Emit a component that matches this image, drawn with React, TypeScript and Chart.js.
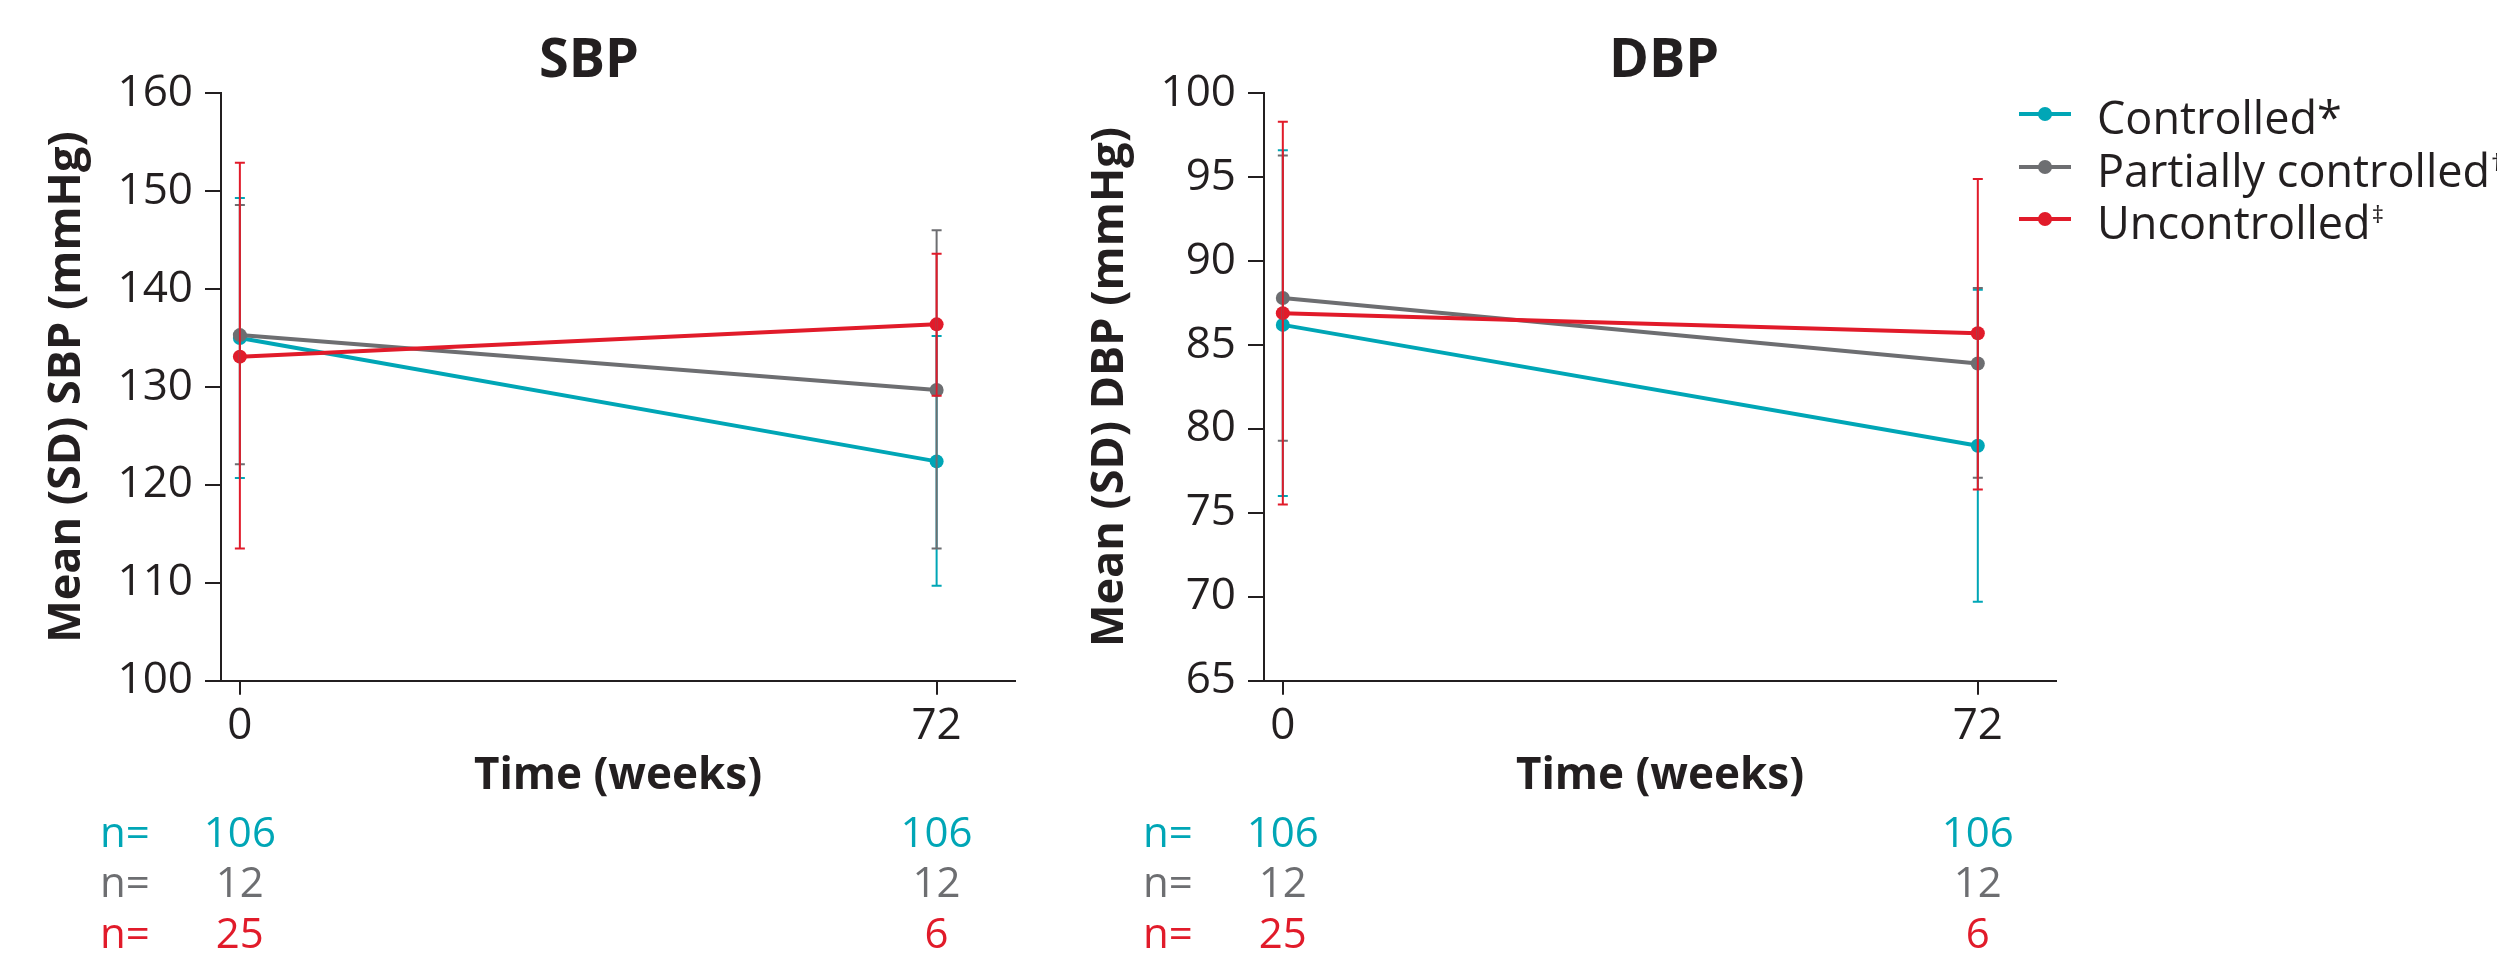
import React, { useEffect, useRef } from 'react';
import { Chart, registerables } from 'chart.js';

Chart.register(...registerables);

// ---------- data ----------
const weeks = [0, 72];
const seriesNames = ['Controlled', 'Partially controlled', 'Uncontrolled'];
const seriesMarks = ['*', '\u2020', '\u2021'];
const seriesColors = ['#00a6b6', '#6d6e71', '#e11b2a'];

// SBP (mmHg)
const sbpControlled = [135.0, 122.4];
const sbpControlledLow = [120.7, 109.7];
const sbpControlledHigh = [149.3, 135.2];
const sbpPartial = [135.3, 129.7];
const sbpPartialLow = [122.1, 113.5];
const sbpPartialHigh = [148.6, 146.0];
const sbpUncontrolled = [133.1, 136.4];
const sbpUncontrolledLow = [113.5, 129.1];
const sbpUncontrolledHigh = [152.9, 143.6];

// DBP (mmHg)
const dbpControlled = [86.2, 79.0];
const dbpControlledLow = [76.0, 69.7];
const dbpControlledHigh = [96.6, 88.3];
const dbpPartial = [87.8, 83.9];
const dbpPartialLow = [79.3, 77.1];
const dbpPartialHigh = [96.3, 88.4];
const dbpUncontrolled = [86.9, 85.7];
const dbpUncontrolledLow = [75.5, 76.4];
const dbpUncontrolledHigh = [98.3, 94.9];

// patients per group at each time point
const nControlled = [106, 106];
const nPartial = [12, 12];
const nUncontrolled = [25, 6];

const sbpTicks = [100, 110, 120, 130, 140, 150, 160];
const dbpTicks = [65, 70, 75, 80, 85, 90, 95, 100];

// ---------- styling ----------
const FONT = "'Open Sans', 'Noto Sans', sans-serif";
const INK = '#231f20';

type Panel = {
  title: string;
  titleX: number;
  yTitle: string;
  yTicks: number[];
  means: number[][];
  lows: number[][];
  highs: number[][];
  legend: boolean;
  padRight: number;
};

const panels: Panel[] = [
  {
    title: 'SBP',
    titleX: 589,
    yTitle: 'Mean (SD) SBP (mmHg)',
    yTicks: sbpTicks,
    means: [sbpControlled, sbpPartial, sbpUncontrolled],
    lows: [sbpControlledLow, sbpPartialLow, sbpUncontrolledLow],
    highs: [sbpControlledHigh, sbpPartialHigh, sbpUncontrolledHigh],
    legend: false,
    padRight: 28,
  },
  {
    title: 'DBP',
    titleX: 621,
    yTitle: 'Mean (SD) DBP (mmHg)',
    yTicks: dbpTicks,
    means: [dbpControlled, dbpPartial, dbpUncontrolled],
    lows: [dbpControlledLow, dbpPartialLow, dbpUncontrolledLow],
    highs: [dbpControlledHigh, dbpPartialHigh, dbpUncontrolledHigh],
    legend: true,
    padRight: 441,
  },
];

const nRows = [nControlled, nPartial, nUncontrolled];

function makePlugin(p: Panel) {
  return {
    id: 'extras_' + p.title,
    afterDatasetsDraw(chart: any) {
      const ctx = chart.ctx;
      const xs = chart.scales.x;
      const ys = chart.scales.y;
      ctx.save();
      // error bars: controlled, partially, uncontrolled (red on top)
      for (let s = 0; s < 3; s++) {
        ctx.strokeStyle = seriesColors[s];
        ctx.lineWidth = 2;
        for (let i = 0; i < weeks.length; i++) {
          const x = xs.getPixelForValue(weeks[i]);
          const yl = ys.getPixelForValue(p.lows[s][i]);
          const yh = ys.getPixelForValue(p.highs[s][i]);
          ctx.beginPath();
          ctx.moveTo(x, yl);
          ctx.lineTo(x, yh);
          ctx.moveTo(x - 5, yl);
          ctx.lineTo(x + 5, yl);
          ctx.moveTo(x - 5, yh);
          ctx.lineTo(x + 5, yh);
          ctx.stroke();
        }
      }
      ctx.restore();
    },
    afterDraw(chart: any) {
      const ctx = chart.ctx;
      const xs = chart.scales.x;
      ctx.save();
      // panel title
      ctx.fillStyle = INK;
      ctx.font = `bold 54px ${FONT}`;
      ctx.textAlign = 'center';
      ctx.textBaseline = 'alphabetic';
      ctx.fillText(p.title, p.titleX, 77);

      // n rows
      const baselines = [847, 897, 948];
      ctx.font = `42px ${FONT}`;
      for (let s = 0; s < 3; s++) {
        ctx.fillStyle = seriesColors[s];
        ctx.textAlign = 'left';
        ctx.fillText('n=', 100, baselines[s]);
        ctx.textAlign = 'center';
        for (let i = 0; i < weeks.length; i++) {
          ctx.fillText(String(nRows[s][i]), xs.getPixelForValue(weeks[i]), baselines[s]);
        }
      }

      // legend
      if (p.legend) {
        const rowY = [114, 167, 219];
        for (let s = 0; s < 3; s++) {
          const y = rowY[s];
          ctx.strokeStyle = seriesColors[s];
          ctx.lineWidth = 4;
          ctx.beginPath();
          ctx.moveTo(976, y);
          ctx.lineTo(1028, y);
          ctx.stroke();
          ctx.fillStyle = seriesColors[s];
          ctx.beginPath();
          ctx.arc(1002, y, 7, 0, Math.PI * 2);
          ctx.fill();
          ctx.fillStyle = INK;
          ctx.textAlign = 'left';
          ctx.font = `45px ${FONT}`;
          const tx = 1054;
          const by = y + 19.5;
          ctx.fillText(seriesNames[s], tx, by);
          const w = ctx.measureText(seriesNames[s]).width;
          if (s === 0) {
            ctx.fillText(seriesMarks[s], tx + w, by);
          } else {
            ctx.font = `24px ${FONT}`;
            ctx.fillText(seriesMarks[s], tx + w + 1, by - 16);
          }
        }
      }
      ctx.restore();
    },
  };
}

function makeConfig(p: Panel): any {
  const order = [2, 1, 0];
  return {
    type: 'line',
    data: {
      datasets: [0, 1, 2].map((s) => ({
        label: seriesNames[s] + seriesMarks[s],
        data: weeks.map((w, i) => ({ x: w, y: p.means[s][i] })),
        borderColor: seriesColors[s],
        backgroundColor: seriesColors[s],
        pointBackgroundColor: seriesColors[s],
        pointBorderWidth: 0,
        pointRadius: 7,
        borderWidth: 4,
        tension: 0,
        order: order[s],
      })),
    },
    options: {
      responsive: false,
      animation: false,
      events: [],
      layout: { padding: { left: 0, right: p.padRight, top: 93.3, bottom: 157.3 } },
      plugins: {
        legend: { display: false },
        tooltip: { enabled: false },
        title: { display: false },
      },
      scales: {
        x: {
          type: 'linear',
          min: -1.95,
          max: 80.1,
          afterBuildTicks: (scale: any) => {
            scale.ticks = weeks.map((v) => ({ value: v }));
          },
          afterFit: (scale: any) => {
            scale.height = 122;
          },
          ticks: {
            autoSkip: false,
            maxRotation: 0,
            padding: 5,
            color: INK,
            font: { family: FONT, size: 44 },
            callback: (v: any) => String(v),
          },
          grid: { drawOnChartArea: false, drawTicks: true, tickLength: 14, color: INK, lineWidth: 2 },
          border: { display: true, color: INK, width: 2 },
          title: {
            display: true,
            text: 'Time (weeks)',
            color: INK,
            font: { family: FONT, size: 44, weight: 'bold' },
            padding: 0,
          },
        },
        y: {
          type: 'linear',
          min: p.yTicks[0],
          max: p.yTicks[p.yTicks.length - 1],
          afterBuildTicks: (scale: any) => {
            scale.ticks = p.yTicks.map((v) => ({ value: v }));
          },
          afterFit: (scale: any) => {
            scale.width = 221;
          },
          ticks: {
            padding: 12,
            color: INK,
            font: { family: FONT, size: 44 },
            callback: (v: any) => String(v),
          },
          grid: { drawOnChartArea: false, drawTicks: true, tickLength: 16, color: INK, lineWidth: 2 },
          border: { display: true, color: INK, width: 2 },
          title: {
            display: true,
            text: p.yTitle,
            color: INK,
            font: { family: FONT, size: 45, weight: 'bold' },
            padding: { top: 40, bottom: 0 },
          },
        },
      },
    },
    plugins: [makePlugin(p)],
  };
}

function PanelCanvas({ p, left, width }: { p: Panel; left: number; width: number }) {
  const ref = useRef<HTMLCanvasElement | null>(null);
  useEffect(() => {
    if (!ref.current) return;
    const chart = new Chart(ref.current, makeConfig(p));
    return () => chart.destroy();
  }, [p]);
  return (
    <canvas
      ref={ref}
      width={width}
      height={960}
      style={{ position: 'absolute', left, top: 0, width, height: 960 }}
    />
  );
}

export default function App() {
  return (
    <div
      style={{
        position: 'absolute',
        left: 0,
        top: 0,
        width: 2497,
        height: 960,
        background: '#ffffff',
        overflow: 'hidden',
      }}
    >
      <PanelCanvas p={panels[0]} left={0} width={1043} />
      <PanelCanvas p={panels[1]} left={1043} width={1454} />
    </div>
  );
}
